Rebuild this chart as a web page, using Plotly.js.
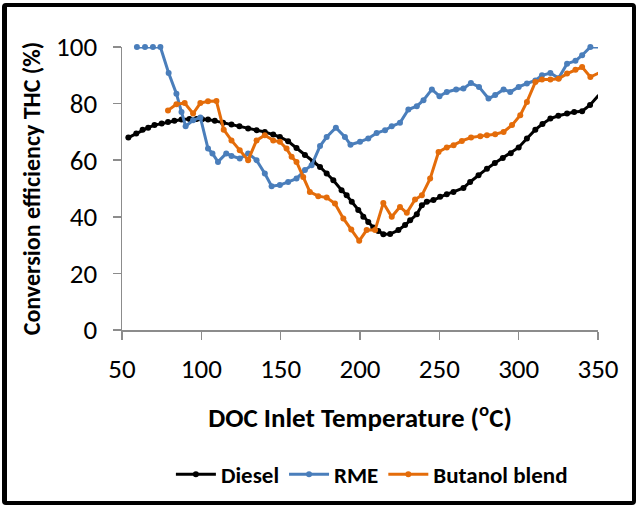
<!DOCTYPE html>
<html>
<head>
<meta charset="utf-8">
<script src="https://cdn.plot.ly/plotly-3.0.1.min.js"></script>
<style>
  body { margin: 0; padding: 0; background: #fff; }
  #wrap { position: relative; width: 636px; height: 508px; overflow: hidden; }
  #plot { position: absolute; left: 0; top: 0; width: 636px; height: 508px; }
  #frame { position: absolute; left: 2px; top: 3px; width: 634px; height: 502px; box-sizing: border-box; border: 4px solid #000; border-left-width: 5px; border-radius: 4px; pointer-events: none; }
</style>
</head>
<body>
<div id="wrap"><div id="plot"></div><div id="frame"></div></div>
<script>
// Diesel
const dieselTemp = [54, 59, 63, 66.5, 70.5, 75, 79, 83, 87.5, 92.5, 97, 100.5, 104.2, 108.5, 113.7, 119, 124, 129.5, 134.8, 140, 145.3, 149.5, 154.7, 160, 165.3, 170.5, 174.8, 179, 183.2, 188.4, 191.6, 194.8, 198.9, 202.1, 205.2, 208.4, 211.5, 214.7, 219, 224.2, 228.4, 231.6, 235.8, 239, 242.1, 246.3, 250.5, 254.7, 258.9, 265.2, 269.4, 274.7, 280, 285, 290, 295, 300, 305.2, 310.5, 315, 320, 325, 330.5, 335, 340, 345, 350.4];
const dieselEff  = [68.0, 69.4, 70.8, 71.5, 72.4, 73.0, 73.5, 73.9, 74.4, 74.6, 74.6, 74.5, 74.4, 73.9, 73.2, 72.6, 72.0, 71.2, 70.6, 70.0, 69.1, 68.2, 66.7, 64.3, 61.8, 59.4, 57.6, 55.3, 52.9, 49.4, 47.6, 45.3, 42.4, 40.0, 38.2, 36.2, 35.0, 33.8, 33.9, 35.3, 37.1, 38.8, 40.9, 44.1, 45.3, 45.9, 47.1, 48.0, 48.8, 50.2, 52.3, 54.7, 57.0, 59.0, 60.8, 62.5, 64.5, 67.7, 70.8, 72.8, 74.7, 75.7, 76.5, 77.0, 77.3, 79.5, 83.0];
// RME
const rmeTemp = [59.4, 64.5, 69.5, 74.2, 79.4, 84.3, 87.5, 90.1, 94.8, 99.4, 104.2, 107, 110.5, 115.7, 119, 124.2, 129.5, 134.8, 140, 144.3, 149.5, 154.7, 160, 165.3, 169.5, 174.8, 179, 184.8, 190.5, 194, 200, 205.2, 210.5, 215.8, 220, 225.2, 230.5, 235.8, 240, 245.3, 250.1, 254.7, 260.6, 265.2, 269.9, 275, 281, 285.2, 290.5, 294.7, 300, 305.2, 310.5, 314.7, 320, 325.2, 330.5, 335.8, 340, 345.2, 350.4];
const rmeEff  = [100, 100, 100, 100, 90.8, 83.5, 77, 72, 74.1, 75.1, 64.1, 62.4, 59.4, 62.4, 61.5, 60.6, 62.4, 60, 55.3, 50.8, 51.2, 52.3, 53.5, 56.5, 58.2, 65, 68.2, 71.5, 68.2, 65.5, 66.5, 67.7, 69.6, 70.6, 72, 73.2, 77.9, 79.1, 81.2, 85, 82.6, 84.1, 85, 85.3, 87.3, 85.9, 81.8, 83, 85, 84.1, 85.9, 87.1, 88.2, 90, 90.8, 89, 94.1, 95.1, 97.1, 100, 100];
// Butanol blend
const butanolTemp = [79, 84.3, 89.5, 94.8, 99.4, 104.2, 109.5, 114.1, 119, 124.2, 129.5, 134.8, 140, 145.3, 149.5, 153.7, 156.9, 160, 164.2, 168.4, 173.7, 179, 184.2, 189.5, 194.5, 199.5, 204.2, 209.5, 214.7, 220, 225.2, 229.5, 234.7, 239, 244.2, 249.5, 254.7, 259, 264.2, 270, 275.8, 280, 285.2, 290.5, 295.8, 301, 305.2, 310.5, 314.7, 320, 325.2, 330.5, 335.8, 340, 345.2, 350.4];
const butanolEff  = [77.6, 79.8, 80.2, 76.5, 80.2, 80.8, 80.9, 70.8, 67, 63.5, 60, 67, 68.8, 67, 66.5, 64.1, 61.2, 59.4, 54.1, 48.8, 47.3, 46.8, 44.7, 39.4, 35.5, 31.5, 35.3, 35.3, 44.9, 40, 43.5, 41.4, 46.1, 47.6, 53.5, 62.9, 64.5, 65.3, 66.8, 68, 68.5, 68.8, 69.2, 70, 72.4, 75.9, 80.6, 87.6, 88.5, 88.5, 88.8, 90.6, 92, 92.9, 89.4, 90.8];

const xTicks = [50, 100, 150, 200, 250, 300, 350];
const yTicks = [0, 20, 40, 60, 80, 100];

const FONT = 'Carlito, Lato, "Open Sans", sans-serif';
function series(name, x, y, color) {
  return {
    type: 'scatter', mode: 'lines+markers', name: name, x: x, y: y,
    line: { color: color, width: 3 },
    marker: { color: color, size: 6 },
    cliponaxis: false
  };
}
const traces = [
  series('Diesel', dieselTemp, dieselEff, '#000000'),
  series('RME', rmeTemp, rmeEff, '#4a7ebb'),
  series('Butanol blend', butanolTemp, butanolEff, '#e46c0a')
];
const axisCommon = {
  showline: true, linecolor: '#8c8c8c', linewidth: 1.5,
  ticks: 'outside', ticklen: 8, tickcolor: '#8c8c8c', tickwidth: 1.5,
  showgrid: false, zeroline: false,
  tickfont: { family: FONT, size: 27, color: '#000' }
};
const layout = {
  width: 636, height: 508,
  margin: { l: 122, r: 38, t: 47, b: 178, autoexpand: false },
  paper_bgcolor: '#fff', plot_bgcolor: '#fff',
  font: { family: FONT, color: '#000' },
  showlegend: true,
  xaxis: Object.assign({}, axisCommon, {
    range: [50, 350], tickmode: 'array', tickvals: xTicks, ticktext: xTicks.map(String),
    ticklabelstandoff: 6,
    title: { text: 'DOC Inlet Temperature (<sup>o</sup>C)', font: { family: FONT, size: 27, weight: 'bold', color: '#000' }, standoff: 24 }
  }),
  yaxis: Object.assign({}, axisCommon, {
    range: [0, 100], tickmode: 'array', tickvals: yTicks, ticktext: yTicks.map(String),
    ticklabelstandoff: 10,
    title: { text: 'Conversion efficiency THC (%)', font: { family: FONT, size: 24, weight: 'bold', color: '#000' }, standoff: 8 }
  }),
  legend: {
    orientation: 'h', x: 0.525, xanchor: 'center', y: -0.51, yanchor: 'middle',
    font: { family: FONT, size: 23, weight: 'bold', color: '#000' },
    itemwidth: 40, bgcolor: 'rgba(0,0,0,0)'
  }
};
Plotly.newPlot('plot', traces, layout, { displayModeBar: false, staticPlot: true });
</script>
</body>
</html>
